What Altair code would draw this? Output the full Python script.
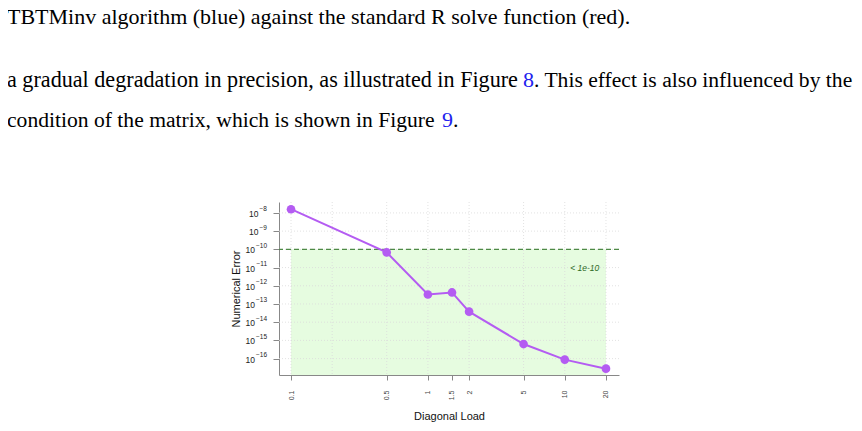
import altair as alt
import pandas as pd

# data
load = [0.1, 0.5, 1, 1.5, 2, 5, 10, 20]
error = [1.6e-8, 6.8e-11, 3.3e-13, 4.3e-13, 3.8e-14, 6.3e-16, 8.8e-17, 2.8e-17]
x_ticks = [0.1, 0.5, 1, 1.5, 2, 5, 10, 20]
x_grid = [0.1, 0.2, 0.5, 1, 2, 5, 10, 20]
y_exponents = list(range(-16, -7))
threshold = 1e-10
threshold_label = "< 1e-10"

x_dom = [0.0817, 24.9]
y_dom = [10 ** -16.9, 10 ** -7.4]

# surrounding document text: (segment, colour, font size)
prose = [
    [("TBTMinv algorithm (blue) against the standard R solve function (red).", "black", 22)],
    [("a gradual degradation in precision, as illustrated in Figure ", "black", 22.15),
     ("8", "#2222EE", 22),
     (". This effect is also influenced by the", "black", 21.6)],
    [("condition of the matrix, which is shown in Figure ", "black", 21.6),
     ("9", "#2222EE", 22),
     (".", "black", 22)],
]
prose_pos = [[(7, 24)], [(7, 87), (523, 87), (534, 87)], [(7, 127), (442, 127), (453, 127)]]

# page position of plot origin
ox, oy = 279, 202
W, H = 340, 173

df = pd.DataFrame({"load": load, "error": error})
band = pd.DataFrame({"load": [load[0]], "load2": [load[-1]], "error": [threshold], "error2": [y_dom[0]]})
gx = pd.DataFrame({"load": x_grid})
gy = pd.DataFrame({"error": [10.0 ** e for e in y_exponents],
                   "exp": [str(e).replace("-", "\u2212") for e in y_exponents],
                   "digits": [len(str(abs(e))) for e in y_exponents]})
thr = pd.DataFrame({"error": [threshold]})
lab = pd.DataFrame({"load": [14.0], "error": [1e-11], "t": [threshold_label]})

xscale = alt.Scale(type="log", domain=x_dom, nice=False)
yscale = alt.Scale(type="log", domain=y_dom, nice=False)
xaxis = alt.Axis(values=x_ticks, labelExpr="format(datum.value, '~g')", labelAngle=270,
                 labelFontSize=7, labelColor="#444", labelPadding=10, tickSize=5,
                 tickColor="#888", domainColor="#888", grid=False, title="Diagonal Load",
                 titleFontSize=11, titleFontWeight="normal", titlePadding=11, titleColor="#111")
yaxis = alt.Axis(values=[10.0 ** e for e in y_exponents], labels=False, tickSize=6,
                 tickColor="#888", domainColor="#888", grid=False, title="Numerical Error",
                 titleFontSize=11, titleFontWeight="normal", titlePadding=31, titleColor="#111")
X = alt.X("load:Q", scale=xscale, axis=xaxis)
Y = alt.Y("error:Q", scale=yscale, axis=yaxis)

shade = alt.Chart(band).mark_rect(color="#E6FCE0").encode(X, alt.X2("load2"), Y, alt.Y2("error2"))
vgrid = alt.Chart(gx).mark_rule(color="#dadada", strokeDash=[1, 2], strokeWidth=0.8).encode(X)
hgrid = alt.Chart(gy).mark_rule(color="#dadada", strokeDash=[1, 2], strokeWidth=0.8).encode(Y)
dash = alt.Chart(thr).mark_rule(color="#4E8A46", strokeDash=[5, 3], strokeWidth=1.3).encode(Y)
line = alt.Chart(df).mark_line(color="#B45CF2", strokeWidth=2).encode(X, Y)
pts = alt.Chart(df).mark_circle(color="#B45CF2", size=75, opacity=1).encode(X, Y)
note = alt.Chart(lab).mark_text(fontStyle="italic", fontSize=8.5, color="#2E6B25", font="Liberation Sans").encode(
    X, Y, text="t:N")

# y tick labels as 10 with a raised exponent
ylab = alt.Chart(gy)
exp_txt = ylab.mark_text(fontSize=6.5, color="#222", font="Liberation Sans", align="right",
                         baseline="middle", dy=-3.5).encode(Y, x=alt.value(-12), text="exp:N")
base_one = ylab.transform_filter("datum.digits == 1").mark_text(
    fontSize=8.5, color="#222", font="Liberation Sans", align="right", baseline="middle", dy=1
).encode(Y, x=alt.value(-20.5), text=alt.value("10"))
base_two = ylab.transform_filter("datum.digits == 2").mark_text(
    fontSize=8.5, color="#222", font="Liberation Sans", align="right", baseline="middle", dy=1
).encode(Y, x=alt.value(-24), text=alt.value("10"))

layers = [shade, vgrid, hgrid, dash, line, pts, note, exp_txt, base_one, base_two]
for segs, poss in zip(prose, prose_pos):
    for (txt, col, fs), (px, py) in zip(segs, poss):
        layers.append(
            alt.Chart(alt.Data(values=[{}])).mark_text(
                text=txt, color=col, font="Liberation Serif", fontSize=fs,
                align="left", baseline="alphabetic"
            ).encode(x=alt.value(px - ox), y=alt.value(py - oy))
        )

chart = alt.layer(*layers).properties(
    width=W, height=H,
    autosize=alt.AutoSizeParams(type="none"),
    padding={"left": ox - 8, "top": oy - 8, "right": 235, "bottom": 48},
).configure_view(stroke=None).configure_axis(labelFont="Liberation Sans", titleFont="Liberation Sans")

chart.save("out.html", embed_options={"renderer": "svg", "actions": False})
